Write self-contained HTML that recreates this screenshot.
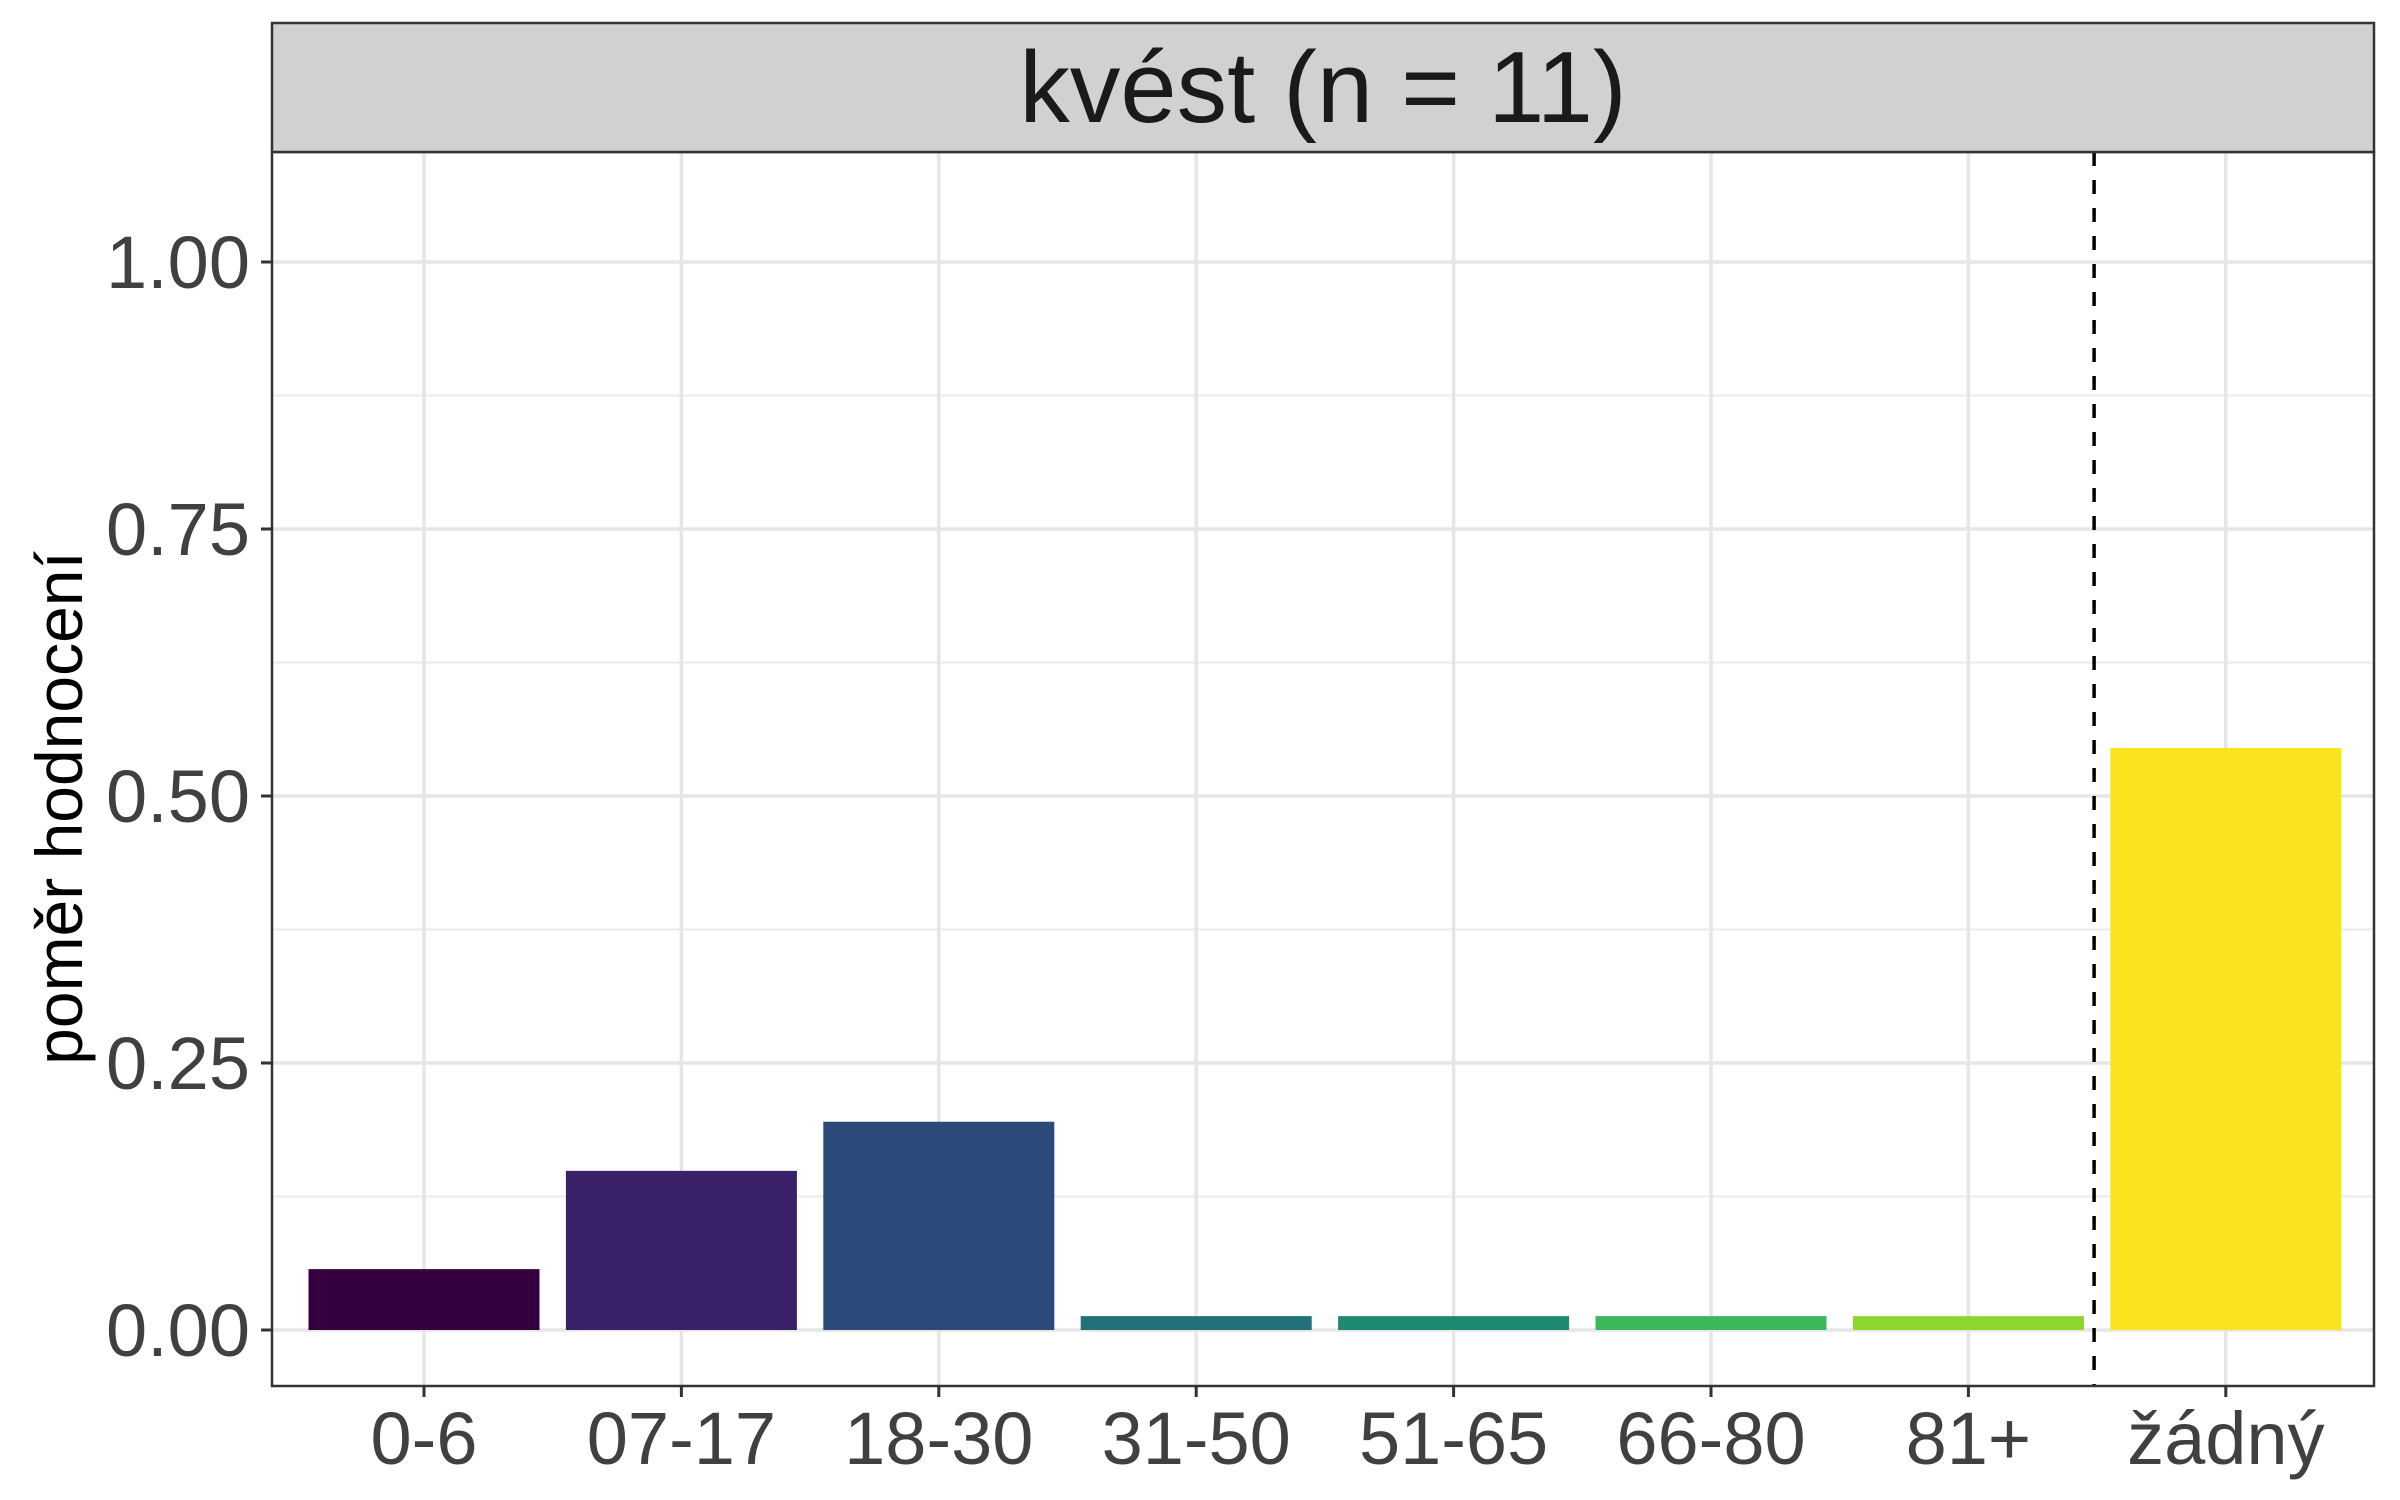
<!DOCTYPE html>
<html><head><meta charset="utf-8"><style>
html,body{margin:0;padding:0;background:#fff;}
svg{display:block;font-family:"Liberation Sans",sans-serif;}
</style></head><body>
<svg id="chart" width="2400" height="1500" viewBox="0 0 2400 1500" xmlns="http://www.w3.org/2000/svg">
<rect x="0" y="0" width="2400" height="1500" fill="#fff"/>
<g id="grid"></g>
<g id="bars"></g>
<g id="axes"></g>
<rect x="272" y="23" width="2102" height="129" fill="#D1D1D1" stroke="#333" stroke-width="2.5"/>
<text x="1323" y="122" font-size="101" fill="#1A1A1A" text-anchor="middle">kvést (n = 11)</text>
<text transform="translate(82,808) rotate(-90)" font-size="66" fill="#000" text-anchor="middle">poměr hodnocení</text>
</svg>
<script>
const categories = ["0-6","07-17","18-30","31-50","51-65","66-80","81+","žádný"];
const values = [0.057, 0.149, 0.195, 0.013, 0.013, 0.013, 0.013, 0.545];
const colors = ["#360040","#3A2168","#2B4A7A","#21707A","#1F8A72","#3BB85A","#8ED62E","#FAE31F"];
const yTicks = [0, 0.25, 0.5, 0.75, 1.0];
const yTickLabels = ["0.00","0.25","0.50","0.75","1.00"];

const NS = "http://www.w3.org/2000/svg";
const L = 272, R = 2374, T = 152, B = 1386;
const y0 = 1330, y1 = 262;
const yScale = v => y0 + (y1 - y0) * v;
const xScale = i => 424 + i * 257.4;
const bw = 231;

function mk(tag, attrs, parent) {
  const e = document.createElementNS(NS, tag);
  for (const k in attrs) e.setAttribute(k, attrs[k]);
  parent.appendChild(e);
  return e;
}
const grid = document.getElementById('grid');
const bars = document.getElementById('bars');
const axes = document.getElementById('axes');

for (let i = 0; i < yTicks.length - 1; i++) {
  const v = (yTicks[i] + yTicks[i + 1]) / 2;
  const l = mk('line', {x1: L, x2: R, y1: yScale(v), y2: yScale(v), stroke: '#EBEBEB', 'stroke-width': 2}, grid);
  
  
}
const topMinor = mk('line', {x1: L, x2: R, y1: yScale(1.125), y2: yScale(1.125), stroke: '#EBEBEB', 'stroke-width': 2}, grid);


yTicks.forEach((v, i) => {
  const l = mk('line', {x1: L, x2: R, y1: yScale(v), y2: yScale(v), stroke: '#E6E6E6', 'stroke-width': 3.5}, grid);
  
  
  const t = mk('line', {x1: L - 11, x2: L, y1: yScale(v), y2: yScale(v), stroke: '#333', 'stroke-width': 3}, axes);
  
  
  const tx = mk('text', {x: L - 22, y: yScale(v) + 26, 'font-size': 74, fill: '#404040', 'text-anchor': 'end'}, axes);
  tx.textContent = yTickLabels[i];
  
  
});
categories.forEach((c, i) => {
  const x = xScale(i);
  const g = mk('line', {x1: x, x2: x, y1: T, y2: B, stroke: '#E6E6E6', 'stroke-width': 3.5}, grid);
  
  
  const r = mk('rect', {x: x - bw / 2, y: yScale(values[i]), width: bw, height: y0 - yScale(values[i]), fill: colors[i]}, bars);
  
  
  const t = mk('line', {x1: x, x2: x, y1: B, y2: B + 11, stroke: '#333', 'stroke-width': 3}, axes);
  
  
  const tx = mk('text', {x: x, y: B + 78, 'font-size': 74, fill: '#404040', 'text-anchor': 'middle'}, axes);
  tx.textContent = c;
  
  
});
const dx = (xScale(6) + xScale(7)) / 2 - 3;
const dash = mk('line', {x1: dx, x2: dx, y1: T, y2: B, stroke: '#000', 'stroke-width': 3.5, 'stroke-dasharray': '14 14'}, axes);


const border = mk('rect', {x: L, y: T, width: R - L, height: B - T, fill: 'none', stroke: '#333', 'stroke-width': 2.5}, axes);


</script>
</body></html>
